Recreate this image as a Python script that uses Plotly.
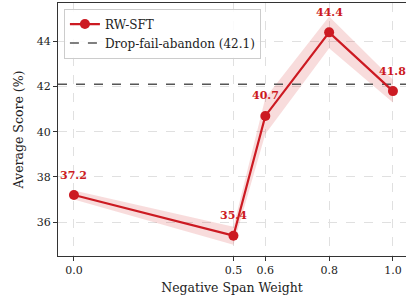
import plotly.graph_objects as go

weights = [0.0, 0.5, 0.6, 0.8, 1.0]
scores = [37.2, 35.4, 40.7, 44.4, 41.8]
spread = [0.2, 0.4, 0.8, 0.7, 0.5]
baseline = 42.1
baseline_label = "Drop-fail-abandon (42.1)"
series_label = "RW-SFT"
x_ticks = [0.0, 0.5, 0.6, 0.8, 1.0]
y_ticks = [36, 38, 40, 42, 44]

RED = "#cc1a22"
FONT = "DejaVu Serif"

upper = [s + d for s, d in zip(scores, spread)]
lower = [s - d for s, d in zip(scores, spread)]

fig = go.Figure()
fig.add_trace(go.Scatter(x=weights + weights[::-1], y=upper + lower[::-1], fill="toself",
                         mode="lines",
                         fillcolor="rgba(214,39,40,0.16)", line=dict(width=0),
                         hoverinfo="skip", showlegend=False))
fig.add_trace(go.Scatter(x=[-0.05, 1.05], y=[baseline, baseline], mode="lines",
                         line=dict(color="#555555", width=1.6, dash="dash"),
                         name=baseline_label))
fig.add_trace(go.Scatter(x=weights, y=scores, mode="lines+markers",
                         line=dict(color=RED, width=2.2),
                         marker=dict(color=RED, size=10),
                         name=series_label))

for x, y in zip(weights, scores):
    fig.add_annotation(x=x, y=y, text=f"<b>{y:.1f}</b>", showarrow=False,
                       yshift=20, font=dict(family=FONT, size=11, color=RED))

fig.update_layout(
    width=406, height=300,
    margin=dict(l=58, r=0, t=3, b=44),
    paper_bgcolor="white", plot_bgcolor="white",
    font=dict(family=FONT, size=12, color="#222222"),
    legend=dict(x=0.017, y=0.978, xanchor="left", yanchor="top",
                bgcolor="rgba(255,255,255,0.85)", bordercolor="#cccccc", borderwidth=1,
                font=dict(family=FONT, size=12), traceorder="reversed",
                tracegroupgap=0, itemwidth=30),
    showlegend=True,
)
fig.update_xaxes(range=[-0.05, 1.041], tickvals=x_ticks, ticktext=[f"{v:.1f}" for v in x_ticks],
                 showline=True, linecolor="#333333", linewidth=1.2, mirror=True,
                 ticks="outside", ticklen=4, tickcolor="#333333",
                 showgrid=True, gridcolor="#e0e0e0", griddash="dash", gridwidth=1,
                 zeroline=False, tickfont=dict(size=11),
                 title=dict(text="Negative Span Weight", font=dict(size=12.5), standoff=6))
fig.update_yaxes(range=[34.5, 45.7], tickvals=y_ticks,
                 showline=True, linecolor="#333333", linewidth=1.2, mirror=False,
                 ticks="outside", ticklen=4, tickcolor="#333333",
                 showgrid=True, gridcolor="#e0e0e0", griddash="dash", gridwidth=1,
                 zeroline=False, tickfont=dict(size=11),
                 title=dict(text="Average Score (%)", font=dict(size=12.5), standoff=10))

fig.write_html("out.html", config={"displayModeBar": False})
with open("out.html") as f:
    html = f.read()
html = html.replace("<body>", '<body style="margin:0;padding:0;overflow:hidden">', 1)
with open("out.html", "w") as f:
    f.write(html)
